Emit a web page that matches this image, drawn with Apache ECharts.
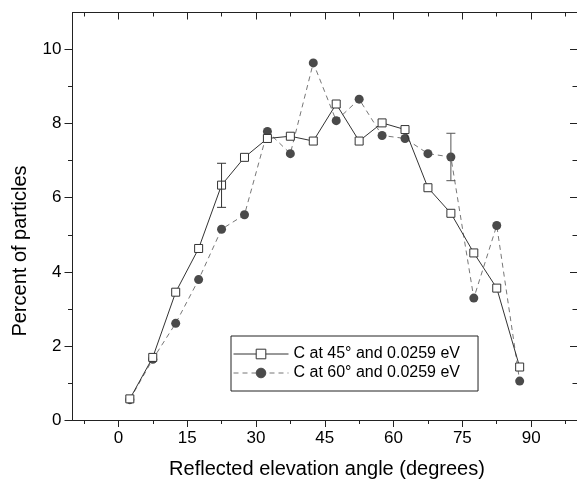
<!DOCTYPE html>
<html>
<head>
<meta charset="utf-8">
<script src="https://cdn.jsdelivr.net/npm/echarts@6/dist/echarts.min.js"></script>
<style>
html,body{margin:0;padding:0;background:#fff;}
#chart{width:577px;height:482px;}
</style>
</head>
<body>
<div id="chart"></div>
<script>
// ---- data ----
var angles = [2.5, 7.5, 12.5, 17.5, 22.5, 27.5, 32.5, 37.5, 42.5, 47.5, 52.5, 57.5, 62.5, 67.5, 72.5, 77.5, 82.5, 87.5];
var c45 = [0.57, 1.69, 3.45, 4.63, 6.34, 7.09, 7.60, 7.66, 7.53, 8.53, 7.53, 8.02, 7.84, 6.27, 5.58, 4.51, 3.56, 1.43];
var c60 = [0.55, 1.64, 2.61, 3.79, 5.15, 5.54, 7.79, 7.19, 9.64, 8.08, 8.66, 7.68, 7.60, 7.19, 7.10, 3.29, 5.25, 1.05];
var err45 = [[22.5, 5.74, 6.93]];
var err60 = [[72.5, 6.46, 7.74]];
var xMajor = [0, 15, 30, 45, 60, 75, 90];
var xMinor = [-7.5, 7.5, 22.5, 37.5, 52.5, 67.5, 82.5, 97.5];
var yMajor = [0, 2, 4, 6, 8, 10];
var yMinor = [1, 3, 5, 7, 9];
var seriesNames = ['C at 45° and 0.0259 eV', 'C at 60° and 0.0259 eV'];
var xTitle = 'Reflected elevation angle (degrees)';
var yTitle = 'Percent of particles';

var FONT = '"Liberation Sans", Arial, sans-serif';
var AX = '#222';

function pairs(xs, ys) { return xs.map(function (x, i) { return [x, ys[i]]; }); }

function xAx(pos, vals, len, inside, showLine, showLabel) {
  return {
    type: 'value', position: pos, min: -10, max: 100,
    axisLine: { show: showLine, onZero: false, lineStyle: { color: AX, width: 1 } },
    axisTick: { show: true, inside: inside, length: len, customValues: vals, lineStyle: { color: AX, width: 1 } },
    axisLabel: showLabel ? { show: true, customValues: vals, color: '#000', fontSize: 17, fontFamily: FONT, margin: 10 } : { show: false },
    splitLine: { show: false }
  };
}
function yAx(pos, vals, len, inside, showLine, showLabel) {
  return {
    type: 'value', position: pos, min: 0, max: 11,
    axisLine: { show: showLine, onZero: false, lineStyle: { color: AX, width: 1 } },
    axisTick: { show: true, inside: inside, length: len, customValues: vals, lineStyle: { color: AX, width: 1 } },
    axisLabel: showLabel ? { show: true, customValues: vals, color: '#000', fontSize: 17, fontFamily: FONT, margin: 11 } : { show: false },
    splitLine: { show: false }
  };
}

function errRender(color) {
  return function (params, api) {
    var x = api.value(0);
    var lo = api.coord([x, api.value(1)]);
    var hi = api.coord([x, api.value(2)]);
    var w = 4.5;
    var st = { stroke: color, lineWidth: 1 };
    return {
      type: 'group',
      children: [
        { type: 'line', shape: { x1: lo[0], y1: lo[1], x2: hi[0], y2: hi[1] }, style: st },
        { type: 'line', shape: { x1: lo[0] - w, y1: lo[1], x2: lo[0] + w, y2: lo[1] }, style: st },
        { type: 'line', shape: { x1: hi[0] - w, y1: hi[1], x2: hi[0] + w, y2: hi[1] }, style: st }
      ]
    };
  };
}

var chart = echarts.init(document.getElementById('chart'), null, { renderer: 'canvas' });
chart.setOption({
  animation: false,
  backgroundColor: '#fff',
  grid: { left: 72.5, top: 12.5, width: 506, height: 407.5, containLabel: false },
  xAxis: [
    xAx('bottom', xMajor, 7, false, true, true),
    xAx('bottom', xMinor, 4, false, false, false),
    xAx('top', xMajor, 7, true, true, false),
    xAx('top', xMinor, 4, true, false, false)
  ],
  yAxis: [
    yAx('left', yMajor, 8, false, true, true),
    yAx('left', yMinor, 4.5, false, false, false),
    yAx('right', yMajor, 7, true, true, false),
    yAx('right', yMinor, 4.5, true, false, false)
  ],
  legend: {
    orient: 'vertical',
    left: 231, top: 336,
    padding: [10, 18, 10, 2],
    borderColor: '#222', borderWidth: 1,
    backgroundColor: '#fff',
    itemWidth: 55, itemHeight: 12, itemGap: 3,
    lineStyle: { width: 1 },
    itemStyle: { borderWidth: 1 },
    textStyle: { fontSize: 16, fontFamily: FONT, color: '#000' },
    data: seriesNames
  },
  graphic: [
    { type: 'text', x: 327, y: 469, style: { text: xTitle, font: '20px ' + FONT, fill: '#000', textAlign: 'center', textVerticalAlign: 'middle' } },
    { type: 'text', x: 20, y: 251, rotation: Math.PI / 2, style: { text: yTitle, font: '20px ' + FONT, fill: '#000', textAlign: 'center', textVerticalAlign: 'middle' } }
  ],
  series: [
    {
      name: seriesNames[1], type: 'line', data: pairs(angles, c60),
      symbol: 'circle', symbolSize: 9,
      lineStyle: { color: '#777', width: 1, type: [5, 4] },
      itemStyle: { color: '#4a4a4a', borderColor: '#4a4a4a', borderWidth: 0 },
      z: 2
    },
    {
      name: seriesNames[0], type: 'line', data: pairs(angles, c45),
      symbol: 'rect', symbolSize: 8,
      lineStyle: { color: '#333', width: 1, type: 'solid' },
      itemStyle: { color: '#fff', borderColor: '#333', borderWidth: 1 },
      z: 3
    },
    { type: 'custom', data: err45, renderItem: errRender('#333'), z: 4, silent: true },
    { type: 'custom', data: err60, renderItem: errRender('#555'), z: 4, silent: true }
  ]
});
</script>
</body>
</html>
